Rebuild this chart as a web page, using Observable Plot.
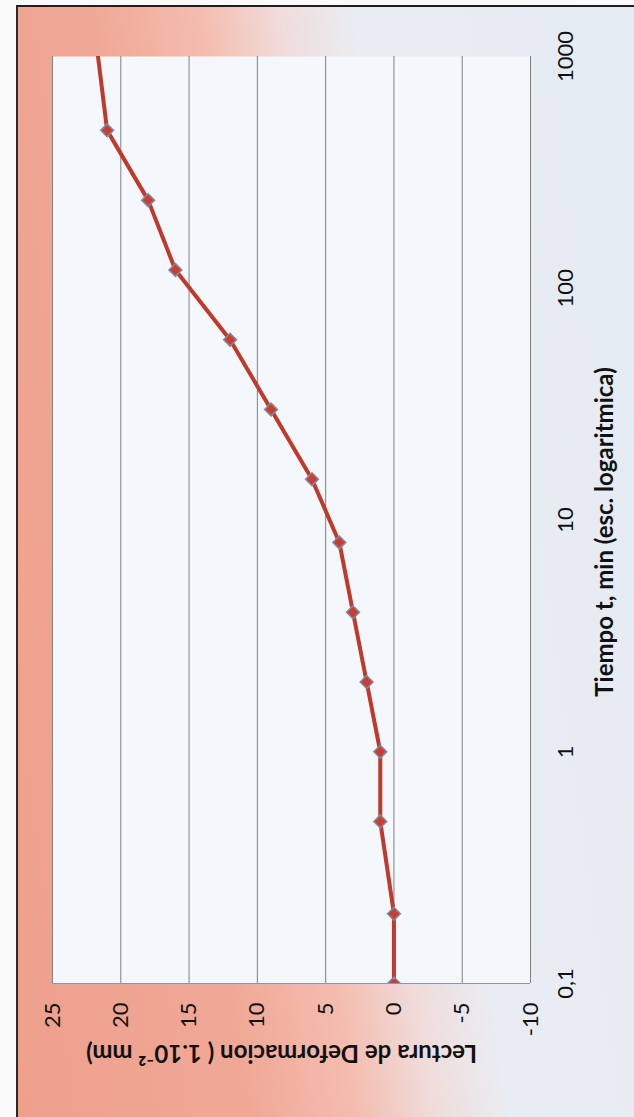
<!DOCTYPE html>
<html><head><meta charset="utf-8">
<script src="https://cdn.jsdelivr.net/npm/d3@7"></script>
<script src="https://cdn.jsdelivr.net/npm/@observablehq/plot@0.6"></script>
<style>
html,body{margin:0;padding:0;width:634px;height:1117px;overflow:hidden;background:#fafafa;}
#bg{position:absolute;left:16px;top:5px;width:618px;height:1112px;box-sizing:border-box;
  border-top:2px solid #1e1e1e;border-left:2px solid #2a2a2a;
  background:linear-gradient(82deg,#ee a08c 0%,#f0a896 30%,#f4bdb0 44%,#f0dcdb 54%,#e9edf3 64%,#e5ebf3 100%);
  background:linear-gradient(82deg,#eea08c 0%,#f0a896 30%,#f4bdb0 44%,#f0dcdb 54%,#e9edf3 64%,#e5ebf3 100%);}
#chart{position:absolute;left:0;top:0;}
</style></head><body><div id="bg"></div><div id="chart"></div>
<script>
// Data read from the (rotated) reference chart
const times = [0.1, 0.2, 0.5, 1, 2, 4, 8, 15, 30, 60, 120, 240, 480, 1440];
const deformation = [0, 0, 1, 1, 2, 3, 4, 6, 9, 12, 16, 18, 21, 22];
const xTicks = [25, 20, 15, 10, 5, 0, -5, -10];
const timeTicks = [0.1, 1, 10, 100, 1000];
const xTitle = "Lectura de Deformacion ( 1.10⁻² mm)";
const yTitle = "Tiempo t, min (esc. logaritmica)";

const data = times.map((t, i) => ({t, v: deformation[i]}));
const fmt = d => String(d).replace(".", ",");

const chart = Plot.plot({
  width: 634, height: 1117,
  marginLeft: 52, marginRight: 104, marginTop: 56, marginBottom: 134,
  style: {background: "transparent", fontFamily: "Lato, sans-serif", color: "#111", overflow: "visible"},
  x: {type: "linear", domain: [25, -10]},
  y: {type: "log", domain: [0.1, 1000]},
  marks: [
    Plot.frame({fill: "#f4f7fb", stroke: null}),
    Plot.gridX(xTicks, {stroke: "#808080", strokeOpacity: 1, strokeWidth: 1}),
    Plot.ruleY([0.1], {stroke: "#8d8fcf", strokeWidth: 1.2}),
    Plot.line(data, {x: "v", y: "t", stroke: "#c0392a", strokeWidth: 4, clip: true}),
    Plot.dot(data, {x: "v", y: "t", symbol: "diamond2", r: 5.8, fill: "#cc3d2d", stroke: "#7d8aa8", strokeWidth: 1.5, clip: true}),
    Plot.axisX(xTicks, {anchor: "bottom", tickSize: 0, tickPadding: 19, tickRotate: -90, textAnchor: "end", lineAnchor: "middle", fontSize: 22, label: null, tickFormat: d => String(d)}),
    Plot.axisY(timeTicks, {anchor: "right", tickSize: 0, tickPadding: 35, tickRotate: -90, textAnchor: "middle", lineAnchor: "middle", fontSize: 22, label: null, tickFormat: fmt}),
    Plot.text([xTitle], {text: d => d, frameAnchor: "bottom", dx: -10, dy: 69, rotate: 180, fontWeight: "bold", fontSize: 24, lineAnchor: "middle", textAnchor: "middle"}),
    Plot.text([yTitle], {text: d => d, frameAnchor: "right", dx: 75, dy: 12, rotate: -90, fontWeight: "bold", fontSize: 24, lineAnchor: "middle", textAnchor: "middle"})
  ]
});
document.getElementById("chart").appendChild(chart);
</script>
</body></html>
